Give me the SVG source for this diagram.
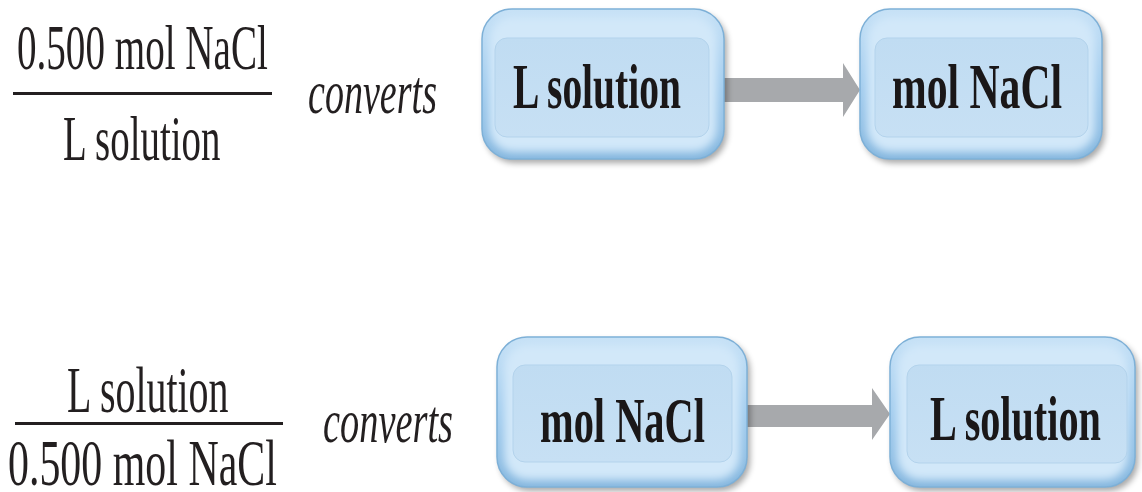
<svg xmlns="http://www.w3.org/2000/svg" width="1142" height="492" viewBox="0 0 1142 492">
  <defs>
    <linearGradient id="rimGrad" x1="0" y1="0" x2="0" y2="1">
      <stop offset="0" stop-color="#c6e1f6"/>
      <stop offset="0.5" stop-color="#a2ccee"/>
      <stop offset="1" stop-color="#84b6de"/>
    </linearGradient>
    <linearGradient id="panelGrad" x1="0" y1="0" x2="0" y2="1">
      <stop offset="0" stop-color="#c0dcf2"/>
      <stop offset="1" stop-color="#c7e0f4"/>
    </linearGradient>
    <filter id="shadow" x="-10%" y="-10%" width="130%" height="130%">
      <feGaussianBlur stdDeviation="3"/>
    </filter>
    <filter id="soft" x="-10%" y="-10%" width="120%" height="120%">
      <feGaussianBlur stdDeviation="4"/>
    </filter>
  </defs>
  <style>
    .frac { font-family: "Liberation Serif", "Times New Roman", serif; font-size: 64px; fill: #231f20; }
    .frac-lg { font-family: "Liberation Serif", "Times New Roman", serif; font-size: 66px; fill: #231f20; }
    .verb { font-family: "Liberation Serif", "Times New Roman", serif; font-size: 62px; font-style: italic; fill: #231f20; }
    .lbl { font-family: "Liberation Serif", "Times New Roman", serif; font-size: 64px; font-weight: bold; fill: #1a1718; }
    .bar { fill: #231f20; }
    .shade { fill: #000; opacity: 0.35; filter: url(#shadow); }
    .rim { fill: url(#rimGrad); stroke: #7aaed6; stroke-width: 1.5; }
    .glow { fill: #d2e8f9; filter: url(#soft); }
    .panel { fill: url(#panelGrad); stroke: #b3d3ec; stroke-width: 1; }
    .arrow { fill: #a7a9ac; }
  </style>

  <rect width="1142" height="492" fill="#ffffff"/>

  <!-- upper conversion factor -->
  <g id="factor-top">
    <text class="frac" transform="translate(17,69) scale(0.611,1)">0.500 mol NaCl</text>
    <rect class="bar" x="13" y="92" width="259" height="3"/>
    <text class="frac" transform="translate(63,160) scale(0.608,1)">L solution</text>
  </g>
  <g id="verb-top">
    <text class="verb" transform="translate(308,113) scale(0.614,1)">converts</text>
  </g>

  <!-- lower conversion factor -->
  <g id="factor-bottom">
    <text class="frac-lg" transform="translate(67,412) scale(0.605,1)">L solution</text>
    <rect class="bar" x="15" y="422" width="268" height="3"/>
    <text class="frac-lg" transform="translate(8,485) scale(0.635,1)">0.500 mol NaCl</text>
  </g>
  <g id="verb-bottom">
    <text class="verb" transform="translate(323,442) scale(0.619,1)">converts</text>
  </g>

  <!-- connectors -->
  <g id="connectors">
    <polygon class="arrow" points="724,78 843,78 843,63 860,90 843,117 843,102 724,102"/>
    <polygon class="arrow" points="747,405 872,405 872,388 890,414 872,440 872,427 747,427"/>
  </g>

  <!-- unit boxes -->
  <g id="box-top-l-solution">
    <rect class="shade" x="485" y="13" width="242" height="150" rx="30"/>
    <rect class="rim" x="482" y="9" width="242" height="150" rx="30"/>
    <rect class="glow" x="489" y="16" width="228" height="136" rx="24"/>
    <rect class="panel" x="495" y="38" width="214" height="99" rx="12"/>
    <text class="lbl" transform="translate(513,108) scale(0.617,1)">L solution</text>
  </g>

  <g id="box-top-mol-nacl">
    <rect class="shade" x="863" y="13" width="242" height="150" rx="30"/>
    <rect class="rim" x="860" y="9" width="242" height="150" rx="30"/>
    <rect class="glow" x="867" y="16" width="228" height="136" rx="24"/>
    <rect class="panel" x="875" y="38" width="213" height="99" rx="12"/>
    <text class="lbl" transform="translate(892,108) scale(0.651,1)">mol NaCl</text>
  </g>

  <g id="box-bottom-mol-nacl">
    <rect class="shade" x="500" y="341" width="250" height="150" rx="30"/>
    <rect class="rim" x="497" y="337" width="250" height="150" rx="30"/>
    <rect class="glow" x="504" y="344" width="236" height="136" rx="24"/>
    <rect class="panel" x="513" y="365" width="219" height="97" rx="12"/>
    <text class="lbl" transform="translate(540,442) scale(0.631,1)">mol NaCl</text>
  </g>

  <g id="box-bottom-l-solution">
    <rect class="shade" x="893" y="341" width="245" height="150" rx="30"/>
    <rect class="rim" x="890" y="337" width="245" height="150" rx="30"/>
    <rect class="glow" x="897" y="344" width="231" height="136" rx="24"/>
    <rect class="panel" x="907" y="365" width="220" height="98" rx="12"/>
    <text class="lbl" transform="translate(930,440) scale(0.628,1)">L solution</text>
  </g>
</svg>
